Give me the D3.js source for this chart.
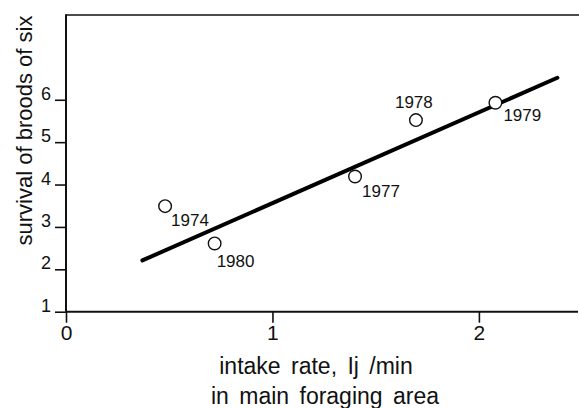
<!DOCTYPE html>
<html>
<head>
<meta charset="utf-8">
<script src="https://cdn.jsdelivr.net/npm/d3@7"></script>
<style>
  html, body { margin: 0; padding: 0; background: #fff; }
  svg { display: block; font-family: "Liberation Sans", Arial, Helvetica, sans-serif; }
</style>
</head>
<body>
<svg id="chart" width="579" height="408"></svg>
<script>
// ---- data ----
const years = ["1974", "1980", "1977", "1978", "1979"];
const intakeRate = [0.48, 0.72, 1.40, 1.695, 2.08];
const survival = [3.49, 2.61, 4.19, 5.52, 5.93];
const fitX = [0.37, 2.38];
const fitY = [2.21, 6.52];
const xTicks = [0, 1, 2];
const yTicks = [1, 2, 3, 4, 5, 6];
// label offsets (dx, dy) relative to point, in px
const labelDx = [6, 2, 7, -21, 8];
const labelDy = [20, 24, 21, -12, 18];

const svg = d3.select("#chart");
const x = d3.scaleLinear().domain([0, 2.48]).range([66, 578]);
const y = d3.scaleLinear().domain([1, 8]).range([311.7, 15]);
const fmt = d3.format("d");

// frame
svg.append("line").attr("x1", x(0)).attr("x2", 579).attr("y1", y(8)).attr("y2", y(8))
  .attr("stroke", "#111").attr("stroke-width", 1.6);
svg.append("line").attr("x1", x(0)).attr("x2", x(0)).attr("y1", y(8) - 0.8).attr("y2", y(1))
  .attr("stroke", "#111").attr("stroke-width", 2);
svg.append("line").attr("x1", x(0)).attr("x2", 578).attr("y1", y(1)).attr("y2", y(1))
  .attr("stroke", "#111").attr("stroke-width", 2);

// y axis
const yAxis = svg.append("g").attr("transform", `translate(${x(0)},0)`)
  .call(d3.axisLeft(y).tickValues(yTicks).tickFormat(fmt).tickSize(11).tickSizeOuter(0).tickPadding(4));
yAxis.attr("font-size", 18).attr("font-family", "Liberation Sans, Arial, sans-serif");
yAxis.select(".domain").remove();
yAxis.selectAll(".tick line").attr("stroke", "#111").attr("stroke-width", 1.6);
yAxis.selectAll(".tick text").attr("fill", "#111").attr("dy", "-0.02em");

// x axis
const xAxis = svg.append("g").attr("transform", `translate(0,${y(1)})`)
  .call(d3.axisBottom(x).tickValues(xTicks).tickFormat(fmt).tickSize(11).tickSizeOuter(0).tickPadding(2));
xAxis.attr("font-size", 21).attr("font-family", "Liberation Sans, Arial, sans-serif");
xAxis.select(".domain").remove();
xAxis.selectAll(".tick line").attr("stroke", "#111").attr("stroke-width", 1.6);
xAxis.selectAll(".tick text").attr("fill", "#111");

// fitted line
svg.append("path")
  .datum(fitX.map((v, i) => [v, fitY[i]]))
  .attr("d", d3.line().x(d => x(d[0])).y(d => y(d[1])))
  .attr("stroke", "#000").attr("stroke-width", 4).attr("stroke-linecap", "round").attr("fill", "none");

// points
const pts = years.map((yr, i) => ({ yr, xv: intakeRate[i], yv: survival[i], dx: labelDx[i], dy: labelDy[i] }));
svg.selectAll("circle.pt").data(pts).enter().append("circle")
  .attr("class", "pt")
  .attr("cx", d => x(d.xv)).attr("cy", d => y(d.yv)).attr("r", 6.3)
  .attr("fill", "#fff").attr("stroke", "#111").attr("stroke-width", 1.4);
svg.selectAll("text.yr").data(pts).enter().append("text")
  .attr("class", "yr")
  .attr("x", d => x(d.xv) + d.dx).attr("y", d => y(d.yv) + d.dy)
  .attr("font-size", 17).attr("fill", "#111")
  .text(d => d.yr);

// axis titles
svg.append("text")
  .attr("transform", "translate(32,130.5) rotate(-90)")
  .attr("text-anchor", "middle").attr("font-size", 22).attr("fill", "#111")
  .text("survival of broods of six");
svg.append("text")
  .attr("x", 316).attr("y", 374).attr("text-anchor", "middle")
  .attr("font-size", 23).attr("fill", "#111").attr("word-spacing", 4)
  .text("intake rate, Ij /min");
svg.append("text")
  .attr("x", 325).attr("y", 404).attr("text-anchor", "middle")
  .attr("font-size", 23).attr("fill", "#111").attr("word-spacing", 4)
  .text("in main foraging area");
</script>
</body>
</html>
